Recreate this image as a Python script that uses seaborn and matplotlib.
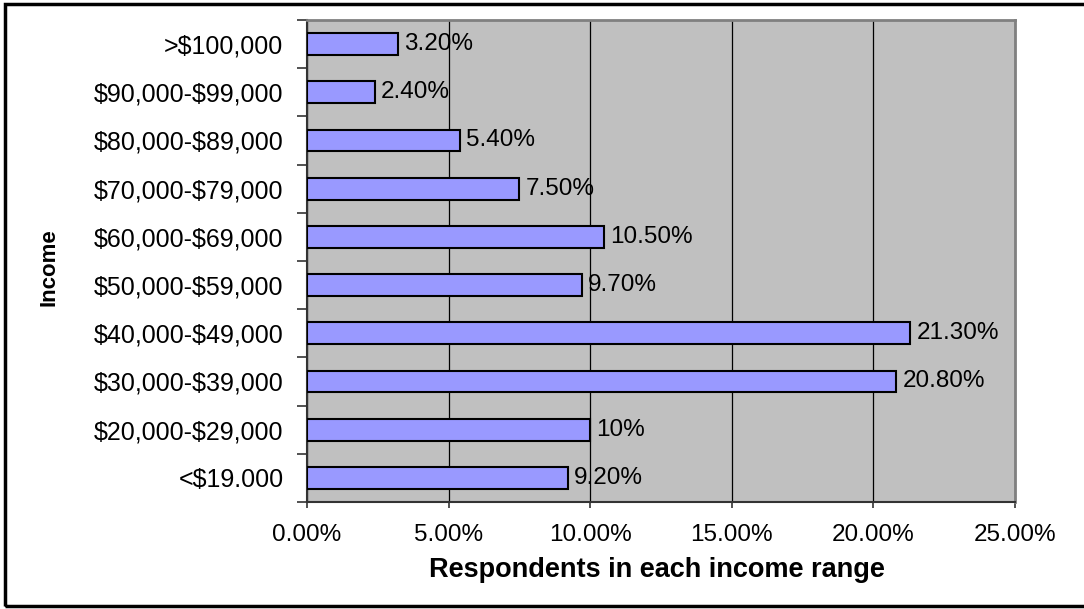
import matplotlib
matplotlib.use("Agg")
import matplotlib.pyplot as plt
import matplotlib.patches as mpatches
from matplotlib.ticker import FixedLocator, FuncFormatter
import seaborn as sns
import pandas as pd

categories = [">$100,000", "$90,000-$99,000", "$80,000-$89,000", "$70,000-$79,000",
              "$60,000-$69,000", "$50,000-$59,000", "$40,000-$49,000", "$30,000-$39,000",
              "$20,000-$29,000", "<$19.000"]
values = [3.2, 2.4, 5.4, 7.5, 10.5, 9.7, 21.3, 20.8, 10.0, 9.2]
value_labels = ["3.20%", "2.40%", "5.40%", "7.50%", "10.50%", "9.70%", "21.30%", "20.80%", "10%", "9.20%"]
x_ticks = [0, 5, 10, 15, 20, 25]

sns.set_theme(style="white")
plt.rcParams['font.family'] = ['Liberation Sans', 'DejaVu Sans']
plt.rcParams['text.parse_math'] = False

df = pd.DataFrame({"Income": categories, "Pct": values})

fig = plt.figure(figsize=(10.84, 6.09), dpi=100)
ax = fig.add_axes([307/1084, 1 - 502/609, (1015-307)/1084, (502-20)/609])
ax.set_facecolor("#C0C0C0")

sns.barplot(data=df, x="Pct", y="Income", order=categories, color="#9999FF",
            saturation=1, width=0.45, edgecolor="black", linewidth=1.5, ax=ax, zorder=3)

for patch, lab in zip(ax.patches, value_labels):
    y = patch.get_y() + patch.get_height() / 2
    ax.annotate(lab, (patch.get_width(), y), xytext=(4.5, 0), textcoords="offset points",
                ha="left", va="center", fontsize=17.5, color="black", zorder=4)

ax.set_xlim(0, 25)
ax.set_ylim(9.5, -0.5)
ax.xaxis.set_major_locator(FixedLocator(x_ticks))
ax.xaxis.set_major_formatter(FuncFormatter(lambda v, p: f"{v:.2f}%"))
ax.grid(axis="x", color="black", linewidth=0.9, zorder=1)
ax.grid(axis="y", visible=False)
ax.set_axisbelow(True)

# y ticks: labels at centres, tick marks at category boundaries
ax.yaxis.set_minor_locator(FixedLocator([i - 0.5 for i in range(11)]))
ax.tick_params(axis="y", which="major", length=0, pad=17, labelsize=18, colors="black")
ax.tick_params(axis="y", which="minor", left=True, length=7, width=1.2, color="#333333")
ax.tick_params(axis="x", which="major", bottom=True, length=4.5, width=1.2, color="#333333",
               pad=11, labelsize=17.5, labelcolor="black")

for side in ["left", "bottom"]:
    ax.spines[side].set_color("#333333")
    ax.spines[side].set_linewidth(1.5)
for side in ["top", "right"]:
    ax.spines[side].set_color("#808080")
    ax.spines[side].set_linewidth(2)
for s in ax.spines.values():
    s.set_visible(True)

ax.set_xlabel("Respondents in each income range", fontsize=19.5, fontweight="bold", color="black")
ax.xaxis.set_label_coords(0.494, -0.114)
ax.set_ylabel("Income", fontsize=16, fontweight="bold", color="black")
ax.yaxis.set_label_coords(-0.35, 0.488)

border = mpatches.Rectangle((5/1084, 1 - 606/609), 1.02, (606-4)/609, transform=fig.transFigure,
                            fill=False, edgecolor="black", linewidth=2.5, clip_on=False)
fig.patches.append(border)

fig.savefig("out.png", dpi=100, facecolor="white")
